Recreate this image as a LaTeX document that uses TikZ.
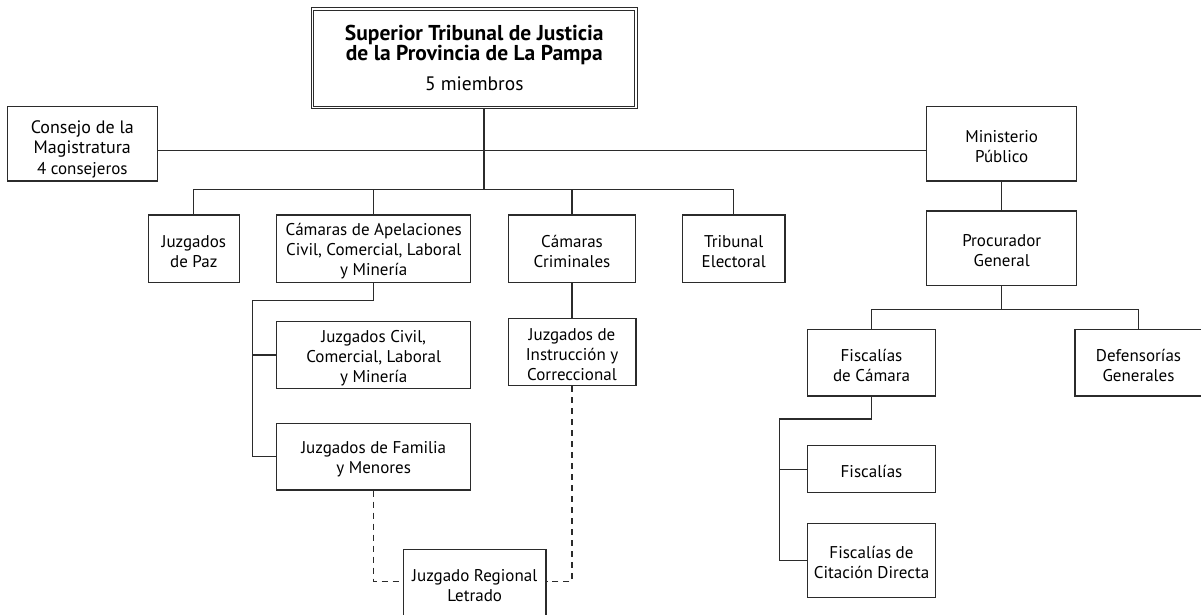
\documentclass[tikz,border=0pt]{standalone}
\usepackage{fontspec}
\setmainfont{PT Sans}
\definecolor{ink}{HTML}{2B2B2B}
\newcommand\mystrut[1][17.5pt]{\rule{0pt}{#1}}
\begin{document}
\begin{tikzpicture}[x=1pt,y=-1pt,
  box/.style={draw=ink, line width=1.3pt, fill=white, align=center, inner sep=0pt,
    font=\fontsize{17}{20}\selectfont, text=black},
  conn/.style={draw=ink, line width=1.3pt},
  dconn/.style={draw=ink, line width=1.3pt, dash pattern=on 6pt off 5pt}]
\clip (0,0) rectangle (1201,615);
\fill[white] (0,0) rectangle (1201,615);
% coordinates
\coordinate (hub) at (484,150.7);
\coordinate (busC) at (484,189.3);
\coordinate (pbus) at (1001.7,309.3);
\coordinate (aspine) at (252.7,300.7);
\coordinate (fspine) at (779.3,419);
\coordinate (dashy) at (474.7,581.7);
% nodes
\node[box, minimum width=323.3pt, minimum height=98.7pt, double=white, double distance=1.6pt, line width=0.8pt] (stj) at (474.3,58.3)
  {\fontsize{21.5}{22.5}\selectfont\bfseries Superior Tribunal de Justicia\\\fontsize{21.5}{22.5}\selectfont\bfseries de la Provincia de La Pampa\\[10pt]\fontsize{19.5}{22}\selectfont 5 miembros};
\node[box, minimum width=150pt, minimum height=74.3pt] (consejo) at (82.3,143.8)
  {\fontsize{18}{20.5}\selectfont\mystrut[24pt]Consejo de la\\\fontsize{18}{20.5}\selectfont Magistratura\\[1pt]{\fontsize{17}{18}\selectfont 4 consejeros}};
\node[box, minimum width=150pt, minimum height=74.3pt] (ministerio) at (1001.7,143.8) {\mystrut Ministerio\\Público};
\node[box, minimum width=150pt, minimum height=74.7pt] (procurador) at (1001.7,248.3) {\mystrut Procurador\\General};
\node[box, minimum width=91pt, minimum height=67.3pt] (paz) at (193.8,248.7) {\mystrut Juzgados\\de Paz};
\node[box, minimum width=194pt, minimum height=67.3pt] (apel) at (373.7,248.7) {\mystrut Cámaras de Apelaciones\\Civil, Comercial, Laboral\\y Minería};
\node[box, minimum width=127.4pt, minimum height=67.3pt] (crim) at (572,248.7) {\mystrut Cámaras\\Criminales};
\node[box, minimum width=102.7pt, minimum height=67.3pt] (elect) at (733.7,248.7) {\mystrut Tribunal\\Electoral};
\node[box, minimum width=194pt, minimum height=66.7pt] (civil) at (373.7,355) {\mystrut Juzgados Civil,\\Comercial, Laboral\\y Minería};
\node[box, minimum width=194pt, minimum height=66.7pt] (familia) at (373.7,456.7) {\mystrut Juzgados de Familia\\y Menores};
\node[box, minimum width=127.7pt, minimum height=67.4pt] (instr) at (572,352) {\mystrut Juzgados de\\Instrucción y\\Correccional};
\node[box, minimum width=142.7pt, minimum height=72pt] (regional) at (474.7,585.3) {Juzgado Regional\\Letrado};
\node[box, minimum width=127.6pt, minimum height=66.7pt] (fcam) at (871.5,362.7) {\mystrut Fiscalías\\de Cámara};
\node[box, minimum width=127pt, minimum height=66.7pt] (defen) at (1138.5,362.7) {\mystrut Defensorías\\Generales};
\node[box, minimum width=127.6pt, minimum height=47pt] (fisc) at (871.5,469.2) {\mystrut Fiscalías};
\node[box, minimum width=127.6pt, minimum height=74pt] (fcit) at (871.5,560.3) {\mystrut Fiscalías de\\Citación Directa};
% connectors
\draw[conn] (stj.south -| hub) -- (busC);
\draw[conn] (consejo.east |- hub) -- (ministerio.west |- hub);
\draw[conn] (paz.north) -- (paz.north |- busC) -- (elect.north |- busC) -- (elect.north);
\draw[conn] (apel.north) -- (apel.north |- busC);
\draw[conn] (crim.north) -- (crim.north |- busC);
\draw[conn] (ministerio.south) -- (procurador.north);
\draw[conn] (procurador.south) -- (pbus);
\draw[conn] (fcam.north) -- (fcam.north |- pbus) -- (defen.north |- pbus) -- (defen.north);
\draw[conn] (apel.south) -- (apel.south |- aspine) -- (aspine) -- (aspine |- familia.west) -- (familia.west);
\draw[conn] (aspine |- civil.west) -- (civil.west);
\draw[conn] (crim.south) -- (instr.north);
\draw[conn] (fcam.south) -- (fcam.south |- fspine) -- (fspine) -- (fspine |- fcit.west) -- (fcit.west);
\draw[conn] (fspine |- fisc.west) -- (fisc.west);
\draw[dconn] (familia.south) -- (familia.south |- dashy) -- (regional.west |- dashy);
\draw[dconn] (instr.south) -- (instr.south |- dashy) -- (regional.east |- dashy);
\end{tikzpicture}
\end{document}
